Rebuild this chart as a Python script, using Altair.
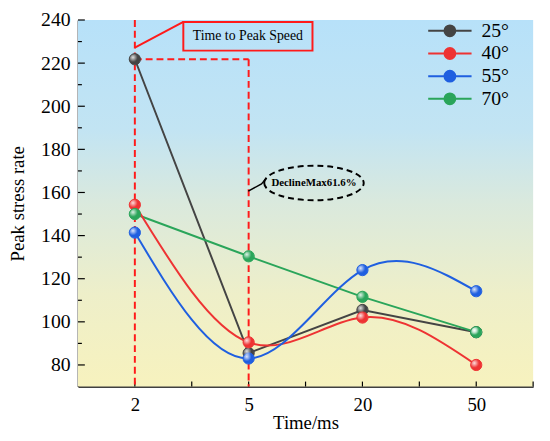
import altair as alt
import pandas as pd

# ---------------- data ----------------
times = ["2", "5", "20", "50"]
series = ["25°", "40°", "55°", "70°"]
v25 = [221.8, 85.5, 105.5, 95.2]
v40 = [154.3, 90.5, 102.0, 80.0]
v55 = [141.4, 83.0, 124.0, 114.2]
v70 = [150.0, 130.4, 111.6, 95.2]
colors = ["#444444", "#ee3333", "#1f5fe0", "#2aa55a"]
smooth_series = ["40°", "55°"]
straight_series = ["25°", "70°"]

y_major = list(range(80, 241, 20))
y_minor = list(range(90, 231, 20))
x_major = [0, 1, 2, 3]
x_minor = [0.5, 1.5, 2.5, 3.5]

# annotation values (in data units: x = category index, y = stress rate)
peak_v = [{"x": 0, "y": 240, "y2": 70}, {"x": 1, "y": 221.8, "y2": 70}]
peak_h = [{"x": 0, "x2": 1, "y": 221.8}]
box = [{"x": 0.426, "x2": 1.561, "y": 225.8, "y2": 239.1}]
box_leader = [{"x": 0, "y": 227.2, "o": 0}, {"x": 0.426, "y": 239.1, "o": 1}]
box_text = [{"x": 0.993, "y": 232.5, "t": "Time to Peak Speed"}]
ell = [{"x": 1.574, "y": 164.4, "t": "DeclineMax61.6%"}]
ell_leader = [{"x": 0.997, "y": 160.6, "o": 0}, {"x": 1.113, "y": 164.0, "o": 1},
              {"x": 1.150, "y": 166.3, "o": 2}]

rows = []
for s, vals in zip(series, [v25, v40, v55, v70]):
    for i, (t, v) in enumerate(zip(times, vals)):
        rows.append({"series": s, "xi": i, "time": t, "val": v})
df = pd.DataFrame(rows)

W, H = 462, 372
FONT = "Liberation Serif"

xs = alt.Scale(domain=[-0.5, 3.5], nice=False, zero=False)
ys = alt.Scale(domain=[70, 240], nice=False, zero=False)
label_arr = "[" + ",".join("'%s'" % t for t in times) + "]"

x_axis = alt.Axis(values=x_major, labelExpr=label_arr + "[datum.value]", ticks=False,
                  grid=False, domainColor="black", domainWidth=1.5,
                  labelFontSize=19, labelPadding=9, labelColor="black",
                  title="Time/ms", titleFontSize=19, titleFontWeight="normal",
                  titleColor="black", titlePadding=0)
y_axis = alt.Axis(values=y_major, ticks=False, grid=False,
                  domainColor="black", domainWidth=1.5, labelFontSize=20,
                  labelPadding=8, labelColor="black", title="Peak stress rate",
                  titleFontSize=19, titleFontWeight="normal", titleColor="black",
                  titlePadding=13)


def X(field):
    return alt.X(field, scale=xs, axis=x_axis)


def Y(field):
    return alt.Y(field, scale=ys, axis=y_axis)


col_scale = alt.Scale(domain=series, range=colors)
legend = alt.Legend(
    title=None, orient="none", legendX=367.5, legendY=1, padding=0,
    symbolType="M-4,0L4,0M1,0A1,1,0,1,1,-1,0A1,1,0,1,1,1,0Z",
    symbolSize=121, symbolStrokeWidth=2, labelOffset=22, rowPadding=3,
    labelFontSize=20, labelFont=FONT, labelColor="black",
)

# background gradient
bg = alt.Chart(pd.DataFrame({"a": [0]})).mark_rect(
    fill=alt.LinearGradient(
        gradient="linear",
        stops=[
            alt.GradientStop(color="#b7e1f9", offset=0),
            alt.GradientStop(color="#c2e4f3", offset=0.3),
            alt.GradientStop(color="#dae9dd", offset=0.5),
            alt.GradientStop(color="#eeefc9", offset=0.75),
            alt.GradientStop(color="#f7f2be", offset=1),
        ],
        x1=0, x2=0, y1=0, y2=1,
    )
).encode(x=alt.value(0), x2=alt.value(W), y=alt.value(0), y2=alt.value(H))

# inward ticks
xt_df = pd.DataFrame({"p": x_major + x_minor})
xticks = alt.Chart(xt_df).mark_rule(color="black", strokeWidth=1.2).encode(
    x=X("p:Q"), y=alt.value(H), y2=alt.value(H - 5))
ytM = alt.Chart(pd.DataFrame({"v": y_major})).mark_rule(color="black", strokeWidth=1.2).encode(
    y=Y("v:Q"), x=alt.value(0), x2=alt.value(7))
ytm = alt.Chart(pd.DataFrame({"v": y_minor})).mark_rule(color="black", strokeWidth=1.2).encode(
    y=Y("v:Q"), x=alt.value(0), x2=alt.value(4))

# red dashed guide lines
RED = "#ff1a1a"
dash = [7, 4]
pv = alt.Chart(pd.DataFrame(peak_v)).mark_rule(color=RED, strokeWidth=2, strokeDash=dash).encode(
    x=X("x:Q"), y=Y("y:Q"), y2="y2:Q")
ph = alt.Chart(pd.DataFrame(peak_h)).mark_rule(color=RED, strokeWidth=2, strokeDash=dash).encode(
    x=X("x:Q"), x2="x2:Q", y=Y("y:Q"))

# data lines
base = alt.Chart(df)
lin = base.transform_filter(
    alt.FieldOneOfPredicate(field="series", oneOf=straight_series)
).mark_line(strokeWidth=2, opacity=1).encode(
    x=X("xi:Q"), y=Y("val:Q"),
    stroke=alt.Stroke("series:N", scale=col_scale, legend=legend),
    detail="series:N",
)
smo = base.transform_filter(
    alt.FieldOneOfPredicate(field="series", oneOf=smooth_series)
).mark_line(strokeWidth=2, opacity=1, interpolate="natural").encode(
    x=X("xi:Q"), y=Y("val:Q"),
    stroke=alt.Stroke("series:N", scale=col_scale, legend=legend),
    detail="series:N",
)
pts = base.mark_point(shape="circle", filled=True, size=130, opacity=1, strokeWidth=1).encode(
    x=X("xi:Q"), y=Y("val:Q"),
    fill=alt.Fill("series:N", scale=col_scale, legend=legend),
    stroke=alt.Stroke("series:N", scale=col_scale, legend=legend),
)
hl = base.mark_point(
    shape="circle", filled=True, size=110, opacity=1, strokeWidth=0,
    fill=alt.RadialGradient(
        gradient="radial",
        stops=[alt.GradientStop(color="rgba(255,255,255,0.85)", offset=0),
               alt.GradientStop(color="rgba(255,255,255,0)", offset=1)],
        x1=0.32, y1=0.32, r1=0, x2=0.32, y2=0.32, r2=0.45),
).encode(x=X("xi:Q"), y=Y("val:Q"))

# annotation: Time to Peak Speed
bx = alt.Chart(pd.DataFrame(box)).mark_rect(fillOpacity=0, stroke=RED, strokeWidth=2).encode(
    x=X("x:Q"), x2="x2:Q", y=Y("y:Q"), y2="y2:Q")
bl = alt.Chart(pd.DataFrame(box_leader)).mark_line(color=RED, strokeWidth=2).encode(
    x=X("x:Q"), y=Y("y:Q"), order="o:Q")
bt = alt.Chart(pd.DataFrame(box_text)).mark_text(
    font=FONT, fontSize=14, color="black", align="center", baseline="middle").encode(
    x=X("x:Q"), y=Y("y:Q"), text="t:N")

# annotation: DeclineMax ellipse
el = alt.Chart(pd.DataFrame(ell)).mark_point(
    shape="M-1,0A1,0.347,0,1,1,1,0A1,0.347,0,1,1,-1,0Z", size=10201, filled=False,
    stroke="black", strokeWidth=2, strokeDash=[6, 4], opacity=1).encode(
    x=X("x:Q"), y=Y("y:Q"))
elt = alt.Chart(pd.DataFrame(ell)).mark_text(
    font=FONT, fontSize=11, fontWeight="bold", color="black", align="center",
    baseline="middle").encode(x=X("x:Q"), y=Y("y:Q"), text="t:N")
ell_l = alt.Chart(pd.DataFrame(ell_leader)).mark_line(color="black", strokeWidth=1.5).encode(
    x=X("x:Q"), y=Y("y:Q"), order="o:Q")

chart = alt.layer(
    bg, xticks, ytM, ytm, pv, ph, lin, smo, pts, hl, bx, bl, bt, el, elt, ell_l
).properties(
    width=W, height=H,
    autosize=alt.AutoSizeParams(type="none"),
    padding={"left": 71, "top": 9, "right": 9, "bottom": 44},
).configure(font=FONT).configure_view(stroke=None)

chart.save("out.html", embed_options={"renderer": "svg", "actions": False})
